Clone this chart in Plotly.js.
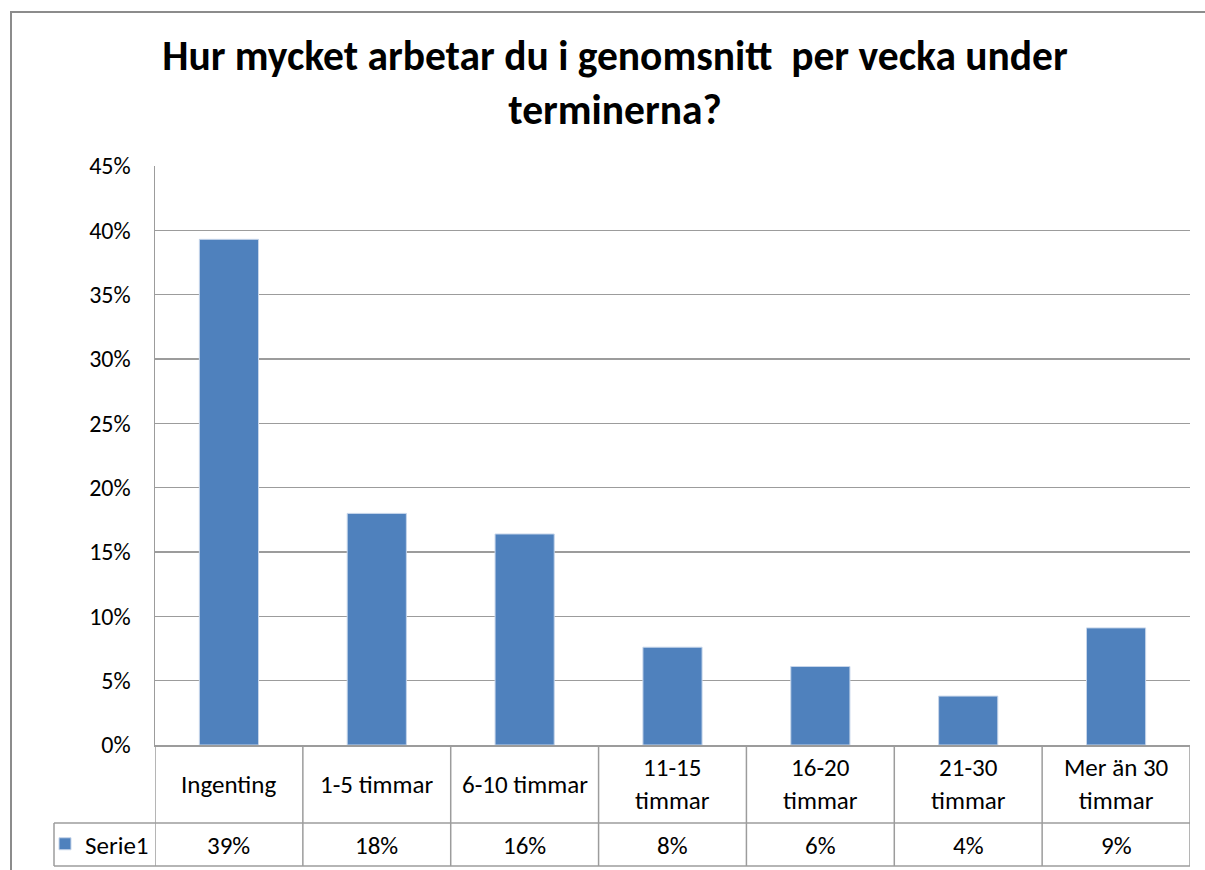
<!DOCTYPE html>
<html>
<head>
<meta charset="utf-8">
<script src="https://cdn.plot.ly/plotly-3.0.1.min.js"></script>
<style>
  body { margin: 0; background: #fff; }
  #myDiv { width: 1205px; height: 870px; }
</style>
</head>
<body>
<div id="myDiv"></div>
<script>
var categories = ['Ingenting', '1-5 timmar', '6-10 timmar', '11-15 timmar',
  '16-20 timmar', '21-30 timmar', 'Mer än 30 timmar'];
var catLabels = ['Ingenting', '1-5 timmar', '6-10 timmar', '11-15<br>timmar',
  '16-20<br>timmar', '21-30<br>timmar', 'Mer än 30<br>timmar'];
var values = [0.393, 0.180, 0.164, 0.076, 0.061, 0.038, 0.091];
var yTicks = [0, 0.05, 0.10, 0.15, 0.20, 0.25, 0.30, 0.35, 0.40, 0.45];

var font = 'Carlito, Lato, sans-serif';
var lineCol = '#9c9c9c';

// pixel -> paper helpers (plot area 155..1190 x 166..745)
function px(x) { return (x - 155) / 1035; }
function py(y) { return (745 - y) / 579; }

var trace1 = {
  x: categories,
  y: values,
  type: 'bar',
  name: 'Serie1',
  width: 0.4,
  marker: { color: '#4f81bd', line: { color: '#c6d5ea', width: 1 } },
  hoverinfo: 'x+y'
};

var shapes = [];
// outer chart border
shapes.push({ type: 'path', xref: 'paper', yref: 'paper',
  path: 'M' + px(1215) + ',' + py(12) + ' L' + px(11) + ',' + py(12) + ' L' + px(11) + ',' + py(880),
  line: { color: '#8c8c8c', width: 2 } });
// data table grid
for (var i = 0; i <= categories.length; i++) {
  shapes.push({ type: 'line', xref: 'x', yref: 'paper',
    x0: i - 0.5, x1: i - 0.5, y0: 0, y1: py(866),
    line: { color: lineCol, width: 1.5 } });
}
shapes.push({ type: 'line', xref: 'paper', yref: 'paper', x0: px(54), x1: 1, y0: py(823), y1: py(823),
  line: { color: lineCol, width: 1.5 } });
shapes.push({ type: 'line', xref: 'paper', yref: 'paper', x0: px(54), x1: 1, y0: py(866), y1: py(866),
  line: { color: lineCol, width: 1.5 } });
shapes.push({ type: 'line', xref: 'paper', yref: 'paper', x0: px(54), x1: px(54), y0: py(823), y1: py(866),
  line: { color: lineCol, width: 1.5 } });

var annotations = [];
for (var j = 0; j < categories.length; j++) {
  annotations.push({ x: categories[j], xref: 'x', y: py(784), yref: 'paper',
    text: catLabels[j], showarrow: false, xanchor: 'center', yanchor: 'middle',
    font: { family: font, size: 25, color: '#000' } });
  annotations.push({ x: categories[j], xref: 'x', y: py(845), yref: 'paper',
    text: Math.round(values[j] * 100) + '%', showarrow: false, xanchor: 'center', yanchor: 'middle',
    font: { family: font, size: 25, color: '#000' } });
}

var layout = {
  width: 1205,
  height: 870,
  margin: { l: 155, r: 15, t: 166, b: 125, autoexpand: false },
  paper_bgcolor: '#fff',
  plot_bgcolor: '#fff',
  font: { family: font, color: '#000' },
  title: {
    text: '<b>Hur mycket arbetar du i genomsnitt  per vecka under<br>terminerna?</b>',
    font: { family: font, size: 41.5, color: '#000' },
    xref: 'container', x: 615 / 1205, xanchor: 'center',
    yref: 'container', y: 1 - 70 / 870, yanchor: 'top'
  },
  xaxis: {
    type: 'category',
    range: [-0.5, 6.5],
    showticklabels: false,
    showgrid: false,
    showline: true,
    linecolor: lineCol,
    linewidth: 1.5,
    ticks: '',
    fixedrange: true
  },
  yaxis: {
    range: [0, 0.45],
    tickvals: yTicks,
    tickformat: '.0%',
    showgrid: true,
    gridcolor: lineCol,
    gridwidth: 1.5,
    showline: true,
    linecolor: lineCol,
    linewidth: 1.5,
    zeroline: false,
    ticks: '',
    ticklabelstandoff: 18,
    tickfont: { family: font, size: 24, color: '#000' }
  },
  showlegend: true,
  legend: {
    x: px(45), xanchor: 'left', xref: 'paper',
    y: py(844), yanchor: 'middle', yref: 'paper',
    bgcolor: 'rgba(0,0,0,0)',
    font: { family: font, size: 25, color: '#000' },
    itemwidth: 30
  },
  bargap: 0.6,
  shapes: shapes,
  annotations: annotations
};

Plotly.newPlot('myDiv', [trace1], layout, { displayModeBar: false, staticPlot: true });
</script>
</body>
</html>
